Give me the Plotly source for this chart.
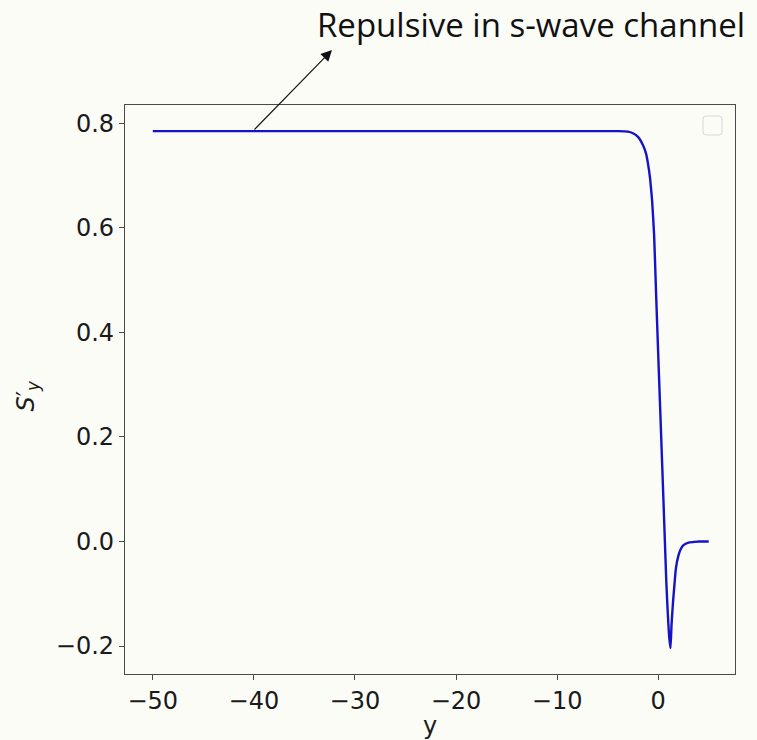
import plotly.graph_objects as go

# data
y_vals = [-50, -10, -5, -4, -3, -2.5, -2, -1.5, -1.2, -1.0, -0.8, -0.6, -0.4, -0.2,
          0.0, 0.2, 0.4, 0.6, 0.8, 0.9, 1.0, 1.1, 1.22, 1.32, 1.4, 1.5, 1.6, 1.75,
          2.0, 2.25, 2.5, 3.0, 3.5, 4.0, 5.0]
s_vals = [0.785, 0.785, 0.785, 0.785, 0.784, 0.781, 0.774, 0.758, 0.742, 0.722,
          0.694, 0.652, 0.585, 0.47, 0.36, 0.253, 0.145, 0.035, -0.075, -0.118,
          -0.155, -0.185, -0.204, -0.16, -0.135, -0.108, -0.085, -0.052, -0.027,
          -0.014, -0.007, -0.002, -0.001, 0.0, 0.0]

x_ticks = [-50, -40, -30, -20, -10, 0]
x_ticktext = ["\u221250", "\u221240", "\u221230", "\u221220", "\u221210", "0"]
y_ticks = [-0.2, 0.0, 0.2, 0.4, 0.6, 0.8]
y_ticktext = ["\u22120.2", "0.0", "0.2", "0.4", "0.6", "0.8"]

annot_text = "Repulsive in s-wave channel"
x_title = "y"
y_title = "<i>S</i>\u2032<sub><i>y</i></sub>"

BG = "#fcfcf7"
AX = "#4a4a4a"
FS = 24

fig = go.Figure()
fig.add_trace(go.Scatter(x=y_vals, y=s_vals, mode="lines",
                         line=dict(color="#1512c8", width=2.4, shape="spline", smoothing=0.4),
                         showlegend=False, hoverinfo="skip"))

axis_common = dict(showline=True, mirror=True, linecolor=AX, linewidth=1.2,
                   ticks="outside", ticklen=5, tickwidth=1.2, tickcolor=AX,
                   showgrid=False, zeroline=False,
                   tickfont=dict(family="DejaVu Sans", size=FS, color="#1a1a1a"))

fig.update_xaxes(range=[-52.75, 7.6], tickvals=x_ticks, ticktext=x_ticktext, **axis_common)
fig.update_yaxes(range=[-0.2535, 0.835], tickvals=y_ticks, ticktext=y_ticktext, **axis_common)

fig.update_layout(
    width=757, height=740,
    margin=dict(l=125, r=22, t=105, b=66),
    paper_bgcolor=BG, plot_bgcolor=BG,
    showlegend=False,
)

# axis labels
fig.add_annotation(text=x_title, xref="paper", yref="paper", x=0.5, y=-0.092,
                   xanchor="center", yanchor="middle", showarrow=False,
                   font=dict(family="DejaVu Sans", size=FS, color="#1a1a1a"))
fig.add_annotation(text=y_title, xref="paper", yref="paper", x=-0.16, y=0.49,
                   xanchor="center", yanchor="middle", showarrow=False, textangle=-90,
                   font=dict(family="DejaVu Sans", size=FS, color="#1a1a1a"))

# title-like annotation text
fig.add_annotation(text=annot_text, xref="paper", yref="paper", x=(747 - 125) / 610,
                   y=(674 - 25) / 569, xanchor="right", yanchor="middle", showarrow=False,
                   font=dict(family="Open Sans", size=33, color="#111111"))

# arrow from the line (y=-40) up to the text
fig.add_annotation(text="", xref="paper", yref="paper",
                   x=(332 - 125) / 610, y=(674 - 50) / 569,
                   axref="pixel", ayref="pixel", ax=-79, ay=81,
                   showarrow=True, arrowhead=2, arrowsize=2.0, arrowwidth=1.1,
                   arrowcolor="#111111", standoff=0, startstandoff=0)

# empty legend box (rounded)
x0, x1 = (703 - 125) / 610, (722 - 125) / 610
y0, y1 = (674 - 135) / 569, (674 - 116) / 569
rx, ry = 3 / 610, 3 / 569
path = (f"M {x0+rx} {y0} L {x1-rx} {y0} Q {x1} {y0} {x1} {y0+ry} "
        f"L {x1} {y1-ry} Q {x1} {y1} {x1-rx} {y1} L {x0+rx} {y1} "
        f"Q {x0} {y1} {x0} {y1-ry} L {x0} {y0+ry} Q {x0} {y0} {x0+rx} {y0} Z")
fig.add_shape(type="path", path=path, xref="paper", yref="paper",
              line=dict(color="#d6d6d6", width=1), fillcolor=BG)

fig.write_html("out.html")
